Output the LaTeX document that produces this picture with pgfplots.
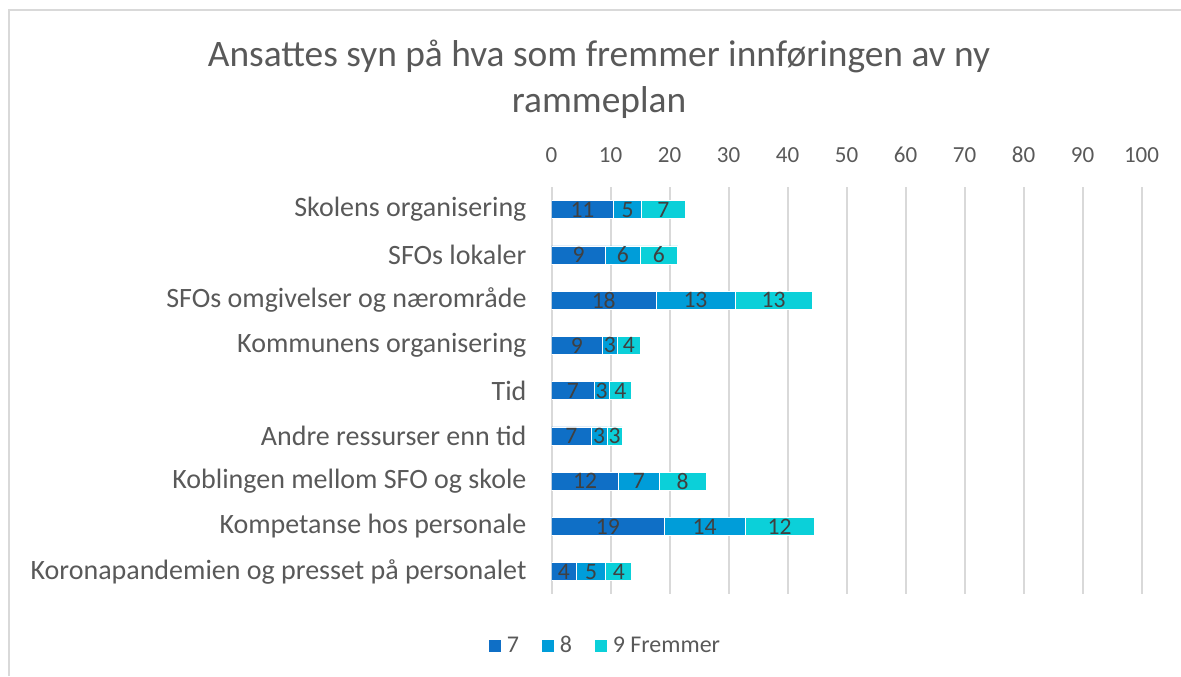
\documentclass[border=0pt]{standalone}
\usepackage{pgfplots}
\pgfplotsset{compat=1.18}
\usepackage{pgfplotstable}
\usepackage{fontspec}
\setmainfont{Carlito}
\definecolor{c1}{HTML}{0F6FC6}
\definecolor{c2}{HTML}{009DD9}
\definecolor{c3}{HTML}{0BD0D9}
\definecolor{txt}{HTML}{595959}
\definecolor{lab}{HTML}{404040}
\definecolor{gridc}{HTML}{D9D9D9}
\pgfplotstableread{
idx v1 l1 v2 l2 v3 l3
0 10.5 11 4.8 5 7.3 7
1 9.2 9 5.8 6 6.4 6
2 17.7 18 13.4 13 13.1 13
3 8.6 9 2.6 3 3.8 4
4 7.2 7 2.6 3 3.7 4
5 6.7 7 2.7 3 2.6 3
6 11.4 12 6.8 7 8.0 8
7 19.1 19 13.7 14 11.7 12
8 4.2 4 5.0 5 4.4 4
}\data
\begin{document}
\begin{tikzpicture}
\draw[gridc, line width=1pt] (4.5pt,0) -- (4.5pt,333pt) -- (590.5pt,333pt);
\node[font=\fontsize{18.7}{22}\selectfont, text=txt] at (299.5pt,310pt) {Ansattes syn på hva som fremmer innføringen av ny};
\node[font=\fontsize{18.7}{22}\selectfont, text=txt] at (299.5pt,286.5pt) {rammeplan};
\begin{axis}[
  at={(275.75pt,40.85pt)}, anchor=south west,
  scale only axis, width=295pt, height=203.65pt,
  xbar stacked, bar width=0.4,
  xmin=0, xmax=100, ymin=-0.5, ymax=8.5, y dir=reverse,
  xtick={0,10,...,100}, ytick={0,...,8},
  yticklabels={Skolens organisering, SFOs lokaler, SFOs omgivelser og nærområde, Kommunens organisering, Tid, Andre ressurser enn tid, Koblingen mellom SFO og skole, Kompetanse hos personale, Koronapandemien og presset på personalet},
  xticklabel pos=upper,
  axis line style={draw=none}, major tick length=0pt,
  xmajorgrids, ymajorgrids=false, grid style={gridc, line width=1pt},
  /pgf/number format/assume math mode=true,
  xticklabel style={font=\fontsize{11.5}{13}\selectfont, text=txt, yshift=8.6pt},
  yticklabel style={font=\fontsize{14}{16}\selectfont, text=txt, xshift=-9pt},
  every node near coord/.append style={font=\fontsize{11.8}{13}\selectfont, text=lab, anchor=center},
  legend style={at={(0.0935,-0.127)}, anchor=center, draw=none, fill=none, legend columns=-1, font=\fontsize{12}{14}\selectfont, text=txt, nodes={inner xsep=2.8pt}, /tikz/every even column/.style={column sep=8pt}},
  legend image code/.code={\fill[#1] (0pt,-3.25pt) rectangle (6.5pt,3.25pt);},
]
\addplot[fill=c1, draw=white, line width=0.3pt, point meta=explicit, nodes near coords]
  table[x=v1,y=idx,meta=l1]{\data};
\addplot[fill=c2, draw=white, line width=0.3pt, point meta=explicit, nodes near coords]
  table[x=v2,y=idx,meta=l2]{\data};
\addplot[fill=c3, draw=white, line width=0.3pt, point meta=explicit, nodes near coords]
  table[x=v3,y=idx,meta=l3]{\data};
\legend{7, 8, 9 Fremmer}
\end{axis}
\pgfresetboundingbox
\useasboundingbox (0,0) rectangle (590.5pt,338pt);
\end{tikzpicture}
\end{document}
